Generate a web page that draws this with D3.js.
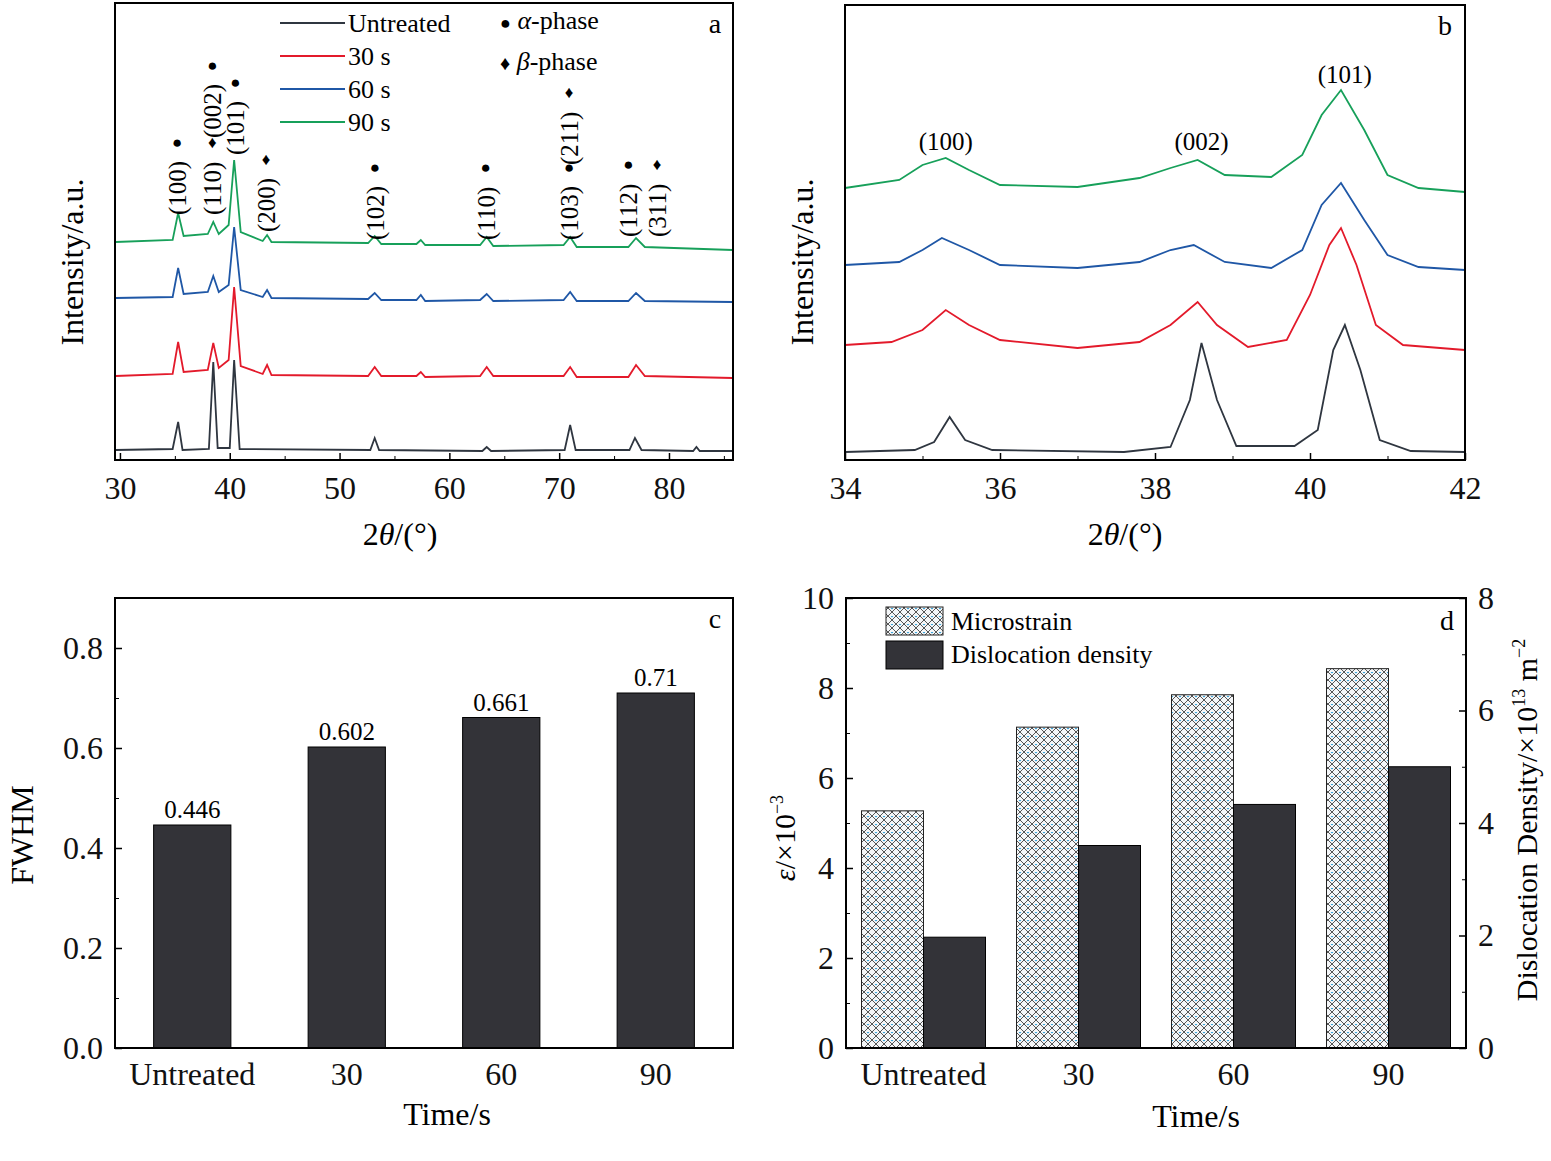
<!DOCTYPE html>
<html><head><meta charset="utf-8">
<script src="https://cdnjs.cloudflare.com/ajax/libs/d3/7.8.5/d3.min.js"></script>
<style>body{margin:0;background:#fff}svg{font-family:"Liberation Serif","Times New Roman",serif}</style>
</head><body><svg id="c" width="1551" height="1161"></svg>
<script>
// panel a, [2theta, intensity]
var aUntreated = [[29.6,10],[34.8,11],[35.3,38],[35.7,10],[38.1,11],[38.5,98],[38.9,12],[40.0,12],[40.4,100],[40.9,11],[52.8,10],[53.2,22],[53.6,10],[63.0,9],[63.4,13],[63.8,9],[70.5,10],[71.0,35],[71.5,10],[76.4,10],[76.9,22],[77.5,10],[82.2,9],[82.5,13],[82.8,9],[85.8,9]];
var a30 = [[29.6,84],[34.8,86],[35.3,118],[35.8,88],[38.0,90],[38.5,117],[39.0,92],[39.9,100],[40.4,173],[41.0,94],[43.0,86],[43.4,95],[43.8,85],[52.6,84],[53.2,93],[53.8,84],[57.0,84],[57.4,88],[57.8,83],[62.8,84],[63.4,93],[64.0,84],[70.4,84],[71.0,93],[71.6,83],[76.3,83],[77.0,95],[77.8,84],[85.8,82]];
var a60 = [[29.6,162],[34.8,163],[35.3,192],[35.8,166],[38.0,168],[38.5,184],[39.0,168],[39.9,175],[40.4,233],[41.0,170],[43.0,163],[43.4,170],[43.8,162],[52.6,161],[53.2,167],[53.8,160],[57.0,160],[57.4,165],[57.8,159],[62.8,160],[63.4,166],[64.0,159],[70.4,160],[71.0,168],[71.6,159],[76.3,159],[77.0,167],[77.8,159],[85.8,158]];
var a90 = [[29.6,218],[34.8,220],[35.3,247],[35.8,224],[38.0,226],[38.5,238],[39.0,226],[39.9,235],[40.4,300],[41.0,228],[43.0,219],[43.4,225],[43.8,218],[52.6,217],[53.2,224],[53.8,216],[57.0,216],[57.4,220],[57.8,215],[62.8,215],[63.4,223],[64.0,214],[70.4,215],[71.0,223],[71.6,213],[76.3,213],[77.0,222],[77.8,213],[85.8,210]];
// panel b
var bUntreated = [[34,8],[34.9,10],[35.15,18],[35.35,43],[35.55,20],[35.9,10],[37.6,8],[38.2,13],[38.45,60],[38.6,117],[38.8,60],[39.05,14],[39.8,14],[40.1,30],[40.3,110],[40.45,135],[40.65,90],[40.9,20],[41.3,9],[42,8]];
var b30 = [[34,115],[34.6,118],[35.0,130],[35.3,150],[35.6,135],[36.0,120],[37.0,112],[37.8,118],[38.2,135],[38.55,158],[38.8,135],[39.2,113],[39.7,120],[40.0,165],[40.25,215],[40.4,232],[40.6,195],[40.85,135],[41.2,115],[42,110]];
var b60 = [[34,195],[34.7,198],[35.0,210],[35.25,222],[35.6,210],[36.0,195],[37.0,192],[37.8,198],[38.2,210],[38.5,215],[38.9,198],[39.5,192],[39.9,210],[40.15,255],[40.4,277],[40.7,240],[41.0,205],[41.4,193],[42,190]];
var b90 = [[34,272],[34.7,280],[35.0,295],[35.3,302],[35.6,290],[36.0,275],[37.0,273],[37.8,282],[38.2,292],[38.55,300],[38.9,285],[39.5,283],[39.9,305],[40.15,345],[40.4,370],[40.7,330],[41.0,285],[41.4,272],[42,268]];
var xrdNames = ["Untreated", "30 s", "60 s", "90 s"];
var xrdColors = ["#2f3640", "#e31a2b", "#1f57a6", "#17a05a"];
// panel c, d
var times = ["Untreated", "30", "60", "90"];
var fwhm = [0.446, 0.602, 0.661, 0.71];
var microstrain = [5.27, 7.13, 7.85, 8.43];
var dislocation = [1.97, 3.6, 4.33, 5.0];
// peak labels in panel a: [x, label, symbol, bottom y in px]
var peakLabels = [[35.3,"(100)","●",215],[38.5,"(110)","♦",215],[38.5,"(002)","●",138],[40.6,"(101)","●",155],[43.4,"(200)","♦",232],[53.3,"(102)","●",240],[63.4,"(110)","●",240],[71.0,"(103)","●",240],[71.0,"(211)","♦",165],[76.4,"(112)","●",237],[79.0,"(311)","♦",237]];
var bLabels = [[35.3,"(100)",150],[38.6,"(002)",150],[40.45,"(101)",83]];

var svg = d3.select("#c");
var FS = 32;

function frame(x0, y0, x1, y1) {
    svg.append("rect").attr("x", x0).attr("y", y0).attr("width", x1 - x0).attr("height", y1 - y0)
        .attr("fill", "none").attr("stroke", "#000").attr("stroke-width", 2);
}
function axis(g, ax, fs) {
    g.call(ax);
    g.select(".domain").remove();
    g.selectAll("text").attr("font-size", fs || FS).attr("font-family", "Liberation Serif").attr("fill", "#111");
    g.selectAll("line").attr("stroke-width", 1.5);
}
function minor(g, ax) {
    g.call(ax);
    g.select(".domain").remove();
    g.selectAll("text").remove();
}

// ---- panel a
var ax = d3.scaleLinear().domain([29.55, 85.83]).range([115, 733]);
var ay = d3.scaleLinear().domain([0, 457]).range([460, 3]);
var line = d3.line().x(function (d) { return ax(d[0]); }).y(function (d) { return ay(d[1]); });
[aUntreated, a30, a60, a90].forEach(function (s, i) {
    svg.append("path").attr("d", line(s)).attr("fill", "none").attr("stroke", xrdColors[i]).attr("stroke-width", 1.8);
});
axis(svg.append("g").attr("transform", "translate(0,460)"), d3.axisBottom(ax).tickValues([30,40,50,60,70,80]).tickSizeInner(-7).tickPadding(16));
minor(svg.append("g").attr("transform", "translate(0,460)"), d3.axisBottom(ax).tickValues([35,45,55,65,75,85]).tickSize(-4));
frame(115, 3, 733, 460);
svg.append("text").attr("x", 400).attr("y", 545).attr("text-anchor", "middle").attr("font-size", FS)
    .html('2<tspan font-style="italic">θ</tspan>/(°)');
svg.append("text").attr("transform", "translate(83,262) rotate(-90)").attr("text-anchor", "middle").attr("font-size", FS).text("Intensity/a.u.");
svg.append("text").attr("x", 715).attr("y", 33).attr("text-anchor", "middle").attr("font-size", 28).text("a");
xrdNames.forEach(function (n, i) {
    var y = 23 + i * 33;
    svg.append("line").attr("x1", 280).attr("x2", 345).attr("y1", y).attr("y2", y).attr("stroke", xrdColors[i]).attr("stroke-width", 2);
    svg.append("text").attr("x", 348).attr("y", y + 9).attr("font-size", 26).text(n);
});
svg.append("text").attr("x", 500).attr("y", 29).attr("font-size", 26).html('<tspan font-size="18">●</tspan> <tspan font-style="italic">α</tspan>-phase');
svg.append("text").attr("x", 500).attr("y", 70).attr("font-size", 26).html('<tspan font-size="20">♦</tspan> <tspan font-style="italic">β</tspan>-phase');
peakLabels.forEach(function (p) {
    var x = ax(p[0]) + 8;
    svg.append("text").attr("transform", "translate(" + x + "," + p[3] + ") rotate(-90)").attr("font-size", 25).text(p[1]);
    svg.append("text").attr("x", x - 9).attr("y", p[3] - 67).attr("text-anchor", "middle").attr("font-size", 17).text(p[2]);
});

// ---- panel b
var bx = d3.scaleLinear().domain([34, 42]).range([845, 1465]);
var line2 = d3.line().x(function (d) { return bx(d[0]); }).y(function (d) { return ay(d[1]); });
[bUntreated, b30, b60, b90].forEach(function (s, i) {
    svg.append("path").attr("d", line2(s)).attr("fill", "none").attr("stroke", xrdColors[i]).attr("stroke-width", 1.8);
});
axis(svg.append("g").attr("transform", "translate(0,460)"), d3.axisBottom(bx).tickValues([34,36,38,40,42]).tickSizeInner(-7).tickPadding(16));
minor(svg.append("g").attr("transform", "translate(0,460)"), d3.axisBottom(bx).tickValues([35,37,39,41]).tickSize(-4));
frame(845, 5, 1465, 460);
svg.append("text").attr("x", 1125).attr("y", 545).attr("text-anchor", "middle").attr("font-size", FS)
    .html('2<tspan font-style="italic">θ</tspan>/(°)');
svg.append("text").attr("transform", "translate(813,262) rotate(-90)").attr("text-anchor", "middle").attr("font-size", FS).text("Intensity/a.u.");
svg.append("text").attr("x", 1445).attr("y", 35).attr("text-anchor", "middle").attr("font-size", 28).text("b");
bLabels.forEach(function (p) {
    svg.append("text").attr("x", bx(p[0])).attr("y", p[2]).attr("text-anchor", "middle").attr("font-size", 25).text(p[1]);
});

// ---- panel c
var cx = d3.scaleBand().domain(times).range([115, 733]).paddingInner(0.5).paddingOuter(0.25);
var cy = d3.scaleLinear().domain([0, 0.9]).range([1048, 598]);
svg.append("g").selectAll("rect").data(fwhm).join("rect")
    .attr("x", function (d, i) { return cx(times[i]); }).attr("width", cx.bandwidth())
    .attr("y", function (d) { return cy(d); }).attr("height", function (d) { return 1048 - cy(d); })
    .attr("fill", "#333338").attr("stroke", "#000");
svg.append("g").selectAll("text").data(fwhm).join("text")
    .attr("x", function (d, i) { return cx(times[i]) + cx.bandwidth() / 2; }).attr("y", function (d) { return cy(d) - 7; })
    .attr("text-anchor", "middle").attr("font-size", 25).text(function (d) { return d; });
axis(svg.append("g").attr("transform", "translate(115,0)"), d3.axisLeft(cy).tickValues([0,0.2,0.4,0.6,0.8]).tickFormat(d3.format(".1f")).tickSizeInner(-7).tickPadding(12));
minor(svg.append("g").attr("transform", "translate(115,0)"), d3.axisLeft(cy).tickValues([0.1,0.3,0.5,0.7]).tickSize(-4));
axis(svg.append("g").attr("transform", "translate(0,1048)"), d3.axisBottom(cx).tickSize(0).tickPadding(14));
frame(115, 598, 733, 1048);
svg.append("text").attr("x", 447).attr("y", 1125).attr("text-anchor", "middle").attr("font-size", FS).text("Time/s");
svg.append("text").attr("transform", "translate(33,835) rotate(-90)").attr("text-anchor", "middle").attr("font-size", FS).text("FWHM");
svg.append("text").attr("x", 715).attr("y", 628).attr("text-anchor", "middle").attr("font-size", 28).text("c");

// ---- panel d
var defs = svg.append("defs");
var pat = defs.append("pattern").attr("id", "hatch").attr("patternUnits", "userSpaceOnUse").attr("width", 8).attr("height", 8);
pat.append("rect").attr("width", 8).attr("height", 8).attr("fill", "#f4f6f8");
pat.append("path").attr("d", "M0,0L8,8M8,0L0,8").attr("stroke", "#444").attr("stroke-width", 0.9);
pat.append("circle").attr("cx", 4).attr("cy", 0).attr("r", 1.2).attr("fill", "#3aa3d8");
var dx = d3.scaleBand().domain(times).range([846, 1466]).paddingInner(0.2).paddingOuter(0.1);
var dsub = d3.scaleBand().domain(["m", "d"]).range([0, dx.bandwidth()]);
var dyL = d3.scaleLinear().domain([0, 10]).range([1048, 598]);
var dyR = d3.scaleLinear().domain([0, 8]).range([1048, 598]);
svg.append("g").selectAll("rect").data(microstrain).join("rect")
    .attr("x", function (d, i) { return dx(times[i]); }).attr("width", dsub.bandwidth())
    .attr("y", function (d) { return dyL(d); }).attr("height", function (d) { return 1048 - dyL(d); })
    .attr("fill", "url(#hatch)").attr("stroke", "#222");
svg.append("g").selectAll("rect").data(dislocation).join("rect")
    .attr("x", function (d, i) { return dx(times[i]) + dsub("d"); }).attr("width", dsub.bandwidth())
    .attr("y", function (d) { return dyR(d); }).attr("height", function (d) { return 1048 - dyR(d); })
    .attr("fill", "#333338").attr("stroke", "#000");
axis(svg.append("g").attr("transform", "translate(846,0)"), d3.axisLeft(dyL).ticks(5).tickSizeInner(-7).tickPadding(12));
minor(svg.append("g").attr("transform", "translate(846,0)"), d3.axisLeft(dyL).tickValues([1,3,5,7,9]).tickSize(-4));
axis(svg.append("g").attr("transform", "translate(1466,0)"), d3.axisRight(dyR).ticks(4).tickSizeInner(-7).tickPadding(12));
minor(svg.append("g").attr("transform", "translate(1466,0)"), d3.axisRight(dyR).tickValues([1,3,5,7]).tickSize(-4));
axis(svg.append("g").attr("transform", "translate(0,1048)"), d3.axisBottom(dx).tickSize(0).tickPadding(14));
frame(846, 598, 1466, 1048);
svg.append("text").attr("x", 1196).attr("y", 1127).attr("text-anchor", "middle").attr("font-size", FS).text("Time/s");
svg.append("text").attr("transform", "translate(795,838) rotate(-90)").attr("text-anchor", "middle").attr("font-size", 30)
    .html('<tspan font-style="italic">ε</tspan>/×10<tspan dy="-12" font-size="18">−3</tspan>');
svg.append("text").attr("transform", "translate(1537,820) rotate(-90)").attr("text-anchor", "middle").attr("font-size", 30)
    .html('Dislocation Density/×10<tspan dy="-12" font-size="18">13</tspan><tspan dy="12"> m</tspan><tspan dy="-12" font-size="18">−2</tspan>');
svg.append("text").attr("x", 1447).attr("y", 630).attr("text-anchor", "middle").attr("font-size", 28).text("d");
svg.append("rect").attr("x", 886).attr("y", 607).attr("width", 57).attr("height", 28).attr("fill", "url(#hatch)").attr("stroke", "#222");
svg.append("text").attr("x", 951).attr("y", 630).attr("font-size", 26).text("Microstrain");
svg.append("rect").attr("x", 886).attr("y", 641).attr("width", 57).attr("height", 28).attr("fill", "#333338").attr("stroke", "#000");
svg.append("text").attr("x", 951).attr("y", 663).attr("font-size", 26).text("Dislocation density");
</script></body></html>
